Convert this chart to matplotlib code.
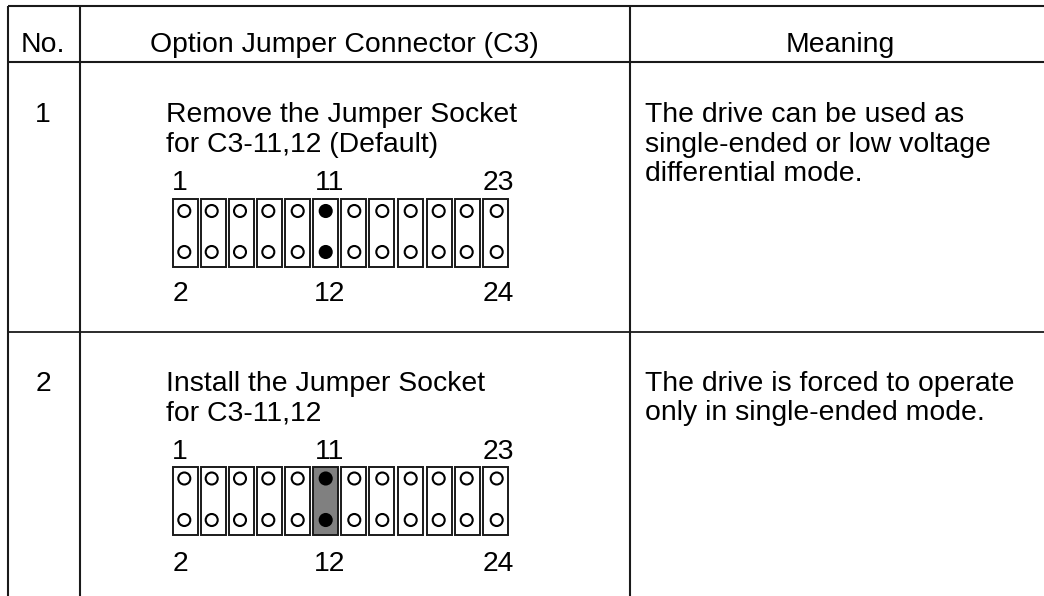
import matplotlib
matplotlib.use("Agg")
import matplotlib.pyplot as plt
from matplotlib.patches import Rectangle, Ellipse

plt.rcParams["font.family"] = ["Liberation Sans", "DejaVu Sans"]

W, H = 1044, 596
FS = 20.4

headers = ["No.", "Option Jumper Connector (C3)", "Meaning"]
row_numbers = ["1", "2"]
option_text = [["Remove the Jumper Socket", "for C3-11,12 (Default)"],
               ["Install the Jumper Socket", "for C3-11,12"]]
meaning_text = [["The drive can be used as", "single-ended or low voltage", "differential mode."],
                ["The drive is forced to operate", "only in single-ended mode."]]
pin_top = ["1", "11", "23"]
pin_bottom = ["2", "12", "24"]
socket_col = 5

# layout, in pixels of the picture
pin_left = [172.5, 200.5, 228.8, 257.2, 284.8, 312.8, 340.8, 368.8, 398.2, 426.5, 454.5, 482.8]
pin_width = 25.2
hole_x = [184.3, 211.7, 240, 268.3, 297.7, 325.7, 354.3, 382.3, 410.7, 438.7, 466.7, 496.7]
label_x = [180, 329.5, 498]

fig = plt.figure(figsize=(W / 100, H / 100), dpi=100)
ax = fig.add_axes([0, 0, 1, 1])
ax.set_xlim(0, W)
ax.set_ylim(H, 0)
ax.axis("off")

# table lines, right border is cut off by the picture
for x in [8, 80, 630]:
    ax.plot([x, x], [6, H], color="#1a1a1a", lw=1.5, solid_capstyle="butt")
for y, lw in [(6, 1.5), (62, 1.5), (332, 1.3)]:
    ax.plot([8, W], [y, y], color="#1a1a1a", lw=lw, solid_capstyle="butt")

# header
ax.text(43, 52, headers[0], ha="center", va="baseline", fontsize=FS)
ax.text(344, 52, headers[1], ha="center", va="baseline", fontsize=FS)
ax.text(840, 52, headers[2], ha="center", va="baseline", fontsize=FS)


def draw_connector(y_top, y_bot, hole_top, hole_bot, top_base, bot_base, installed):
    for i in range(len(pin_left)):
        gray = installed and i == socket_col
        ax.add_patch(Rectangle((pin_left[i], y_top), pin_width, y_bot - y_top,
                               fc="#808080" if gray else "white", ec="#1a1a1a", lw=1.4))
        for yy in [hole_top, hole_bot]:
            filled = i == socket_col
            ax.add_patch(Ellipse((hole_x[i], yy), 12, 12, fc="black" if filled else "white",
                                 ec="black", lw=1.5, zorder=3))
    for x, t, b in zip(label_x, pin_top, pin_bottom):
        ax.text(x, top_base, t, ha="center", va="baseline", fontsize=FS)
        ax.text(x, bot_base, b, ha="center", va="baseline", fontsize=FS)


def draw_lines(x, y, lines):
    for j, line in enumerate(lines):
        ax.text(x, y + j * 29.5, line, ha="left", va="baseline", fontsize=FS)


baselines = [122, 391]
for k in range(2):
    ax.text(43, baselines[k], row_numbers[k], ha="center", va="baseline", fontsize=FS)
    draw_lines(165.5, baselines[k], option_text[k])
    draw_lines(645, baselines[k], meaning_text[k])

draw_connector(198.5, 266.5, 211, 252, 190, 301, False)
draw_connector(467, 534.5, 478.5, 520, 459, 571, True)

fig.savefig("out.png", dpi=100)
